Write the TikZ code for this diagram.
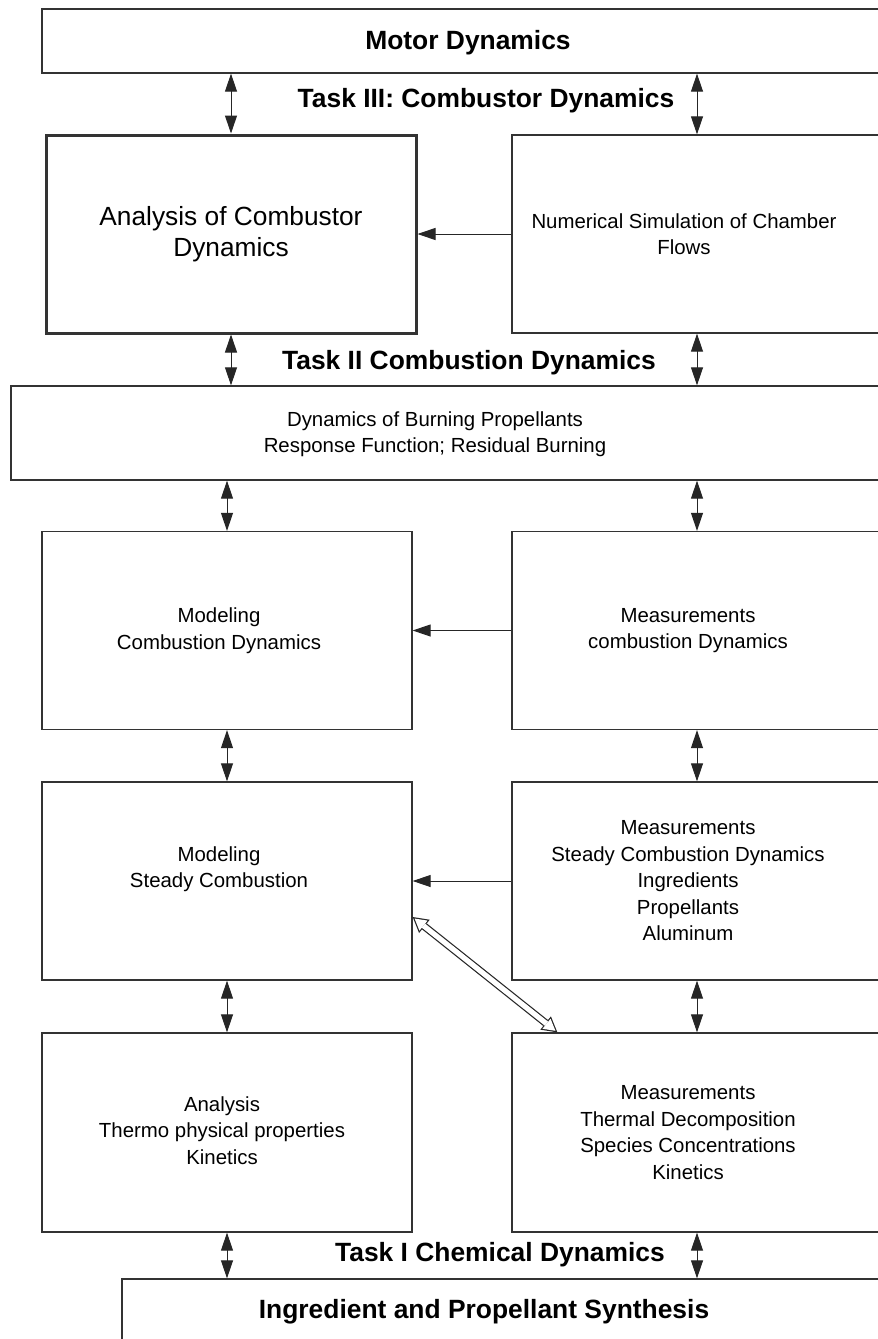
\documentclass[tikz,border=0pt]{standalone}
\usepackage{fontspec}
\setmainfont{Liberation Sans}
\usetikzlibrary{arrows.meta,positioning,calc}

\begin{document}
\begin{tikzpicture}[x=0.5pt, y=-0.5pt,
        box/.style={draw=black!80, line width=0.65pt, minimum width=185pt, minimum height=99pt, inner sep=0pt},
        txt/.style={align=center, font=\fontsize{10.2}{13.25}\selectfont},
        big/.style={align=center, font=\fontsize{13.15}{15.5}\selectfont},
        task/.style={font=\fontsize{13.2}{15.5}\selectfont\bfseries},
        both/.style={line width=0.5pt, draw=black!85, {Triangle[length=9pt,width=6pt]}-{Triangle[length=9pt,width=6pt]}},
        arrow/.style={line width=0.5pt, draw=black!85, -{Triangle[length=9pt,width=6pt]}},
        hollow/.style={
            preaction={draw=black!85, line width=3.8pt, shorten <=0pt, shorten >=0pt,
                {Triangle[length=7.5pt,width=8.5pt,line width=0pt]}-{Triangle[length=7.5pt,width=8.5pt,line width=0pt]}},
            draw=white, line width=2.6pt, shorten <=1.22pt, shorten >=1.22pt,
            {Triangle[length=5.7pt,width=6.45pt,line width=0pt]}-{Triangle[length=5.7pt,width=6.45pt,line width=0pt]}}
    ]
        \clip (0,0) rectangle (878,1339);
        \fill[white] (0,0) rectangle (878,1339);

        % Top bar
        \node[box, minimum width=426pt, minimum height=32pt] (motor) at (468,41) {};
        \node[task] at ([yshift=-1pt]motor.center) {Motor Dynamics};

        % Task III
        \node[box, big, line width=1.5pt] (anacomb) at (231,234) {Analysis of Combustor\\Dynamics};
        \node[box] (numsim) at (697,234) {};
        \node[txt] (numsim-t) at ([xshift=-6.5pt]numsim.center) {Numerical Simulation of Chamber\\Flows};
        \node[task] (task3) at (486,101) {Task III: Combustor Dynamics};

        % Task II
        \node[box, minimum width=437pt, minimum height=47pt] (dyn) at (448,433) {};
        \node[txt] (dyn-t) at ([xshift=-6.5pt, yshift=-0.5pt]dyn.center) {Dynamics of Burning Propellants\\Response Function; Residual Burning};
        \node[task] (task2) at (469,363) {Task II Combustion Dynamics};

        \node[box] (modcomb) at (227,630.5) {};
        \node[txt] at ([xshift=-4pt]modcomb.center) {Modeling\\Combustion Dynamics};
        \node[box] (mcdyn) at (697,630.5) {};
        \node[txt] at ([xshift=-4.5pt]mcdyn.center) {Measurements\\combustion Dynamics};

        \node[box] (steady) at (227,881) {};
        \node[txt] at ([xshift=-4pt, yshift=6pt]steady.center) {Modeling\\Steady Combustion};
        \node[box] (msteady) at (697,881) {};
        \node[txt] at ([xshift=-4.5pt]msteady.center) {Measurements\\Steady Combustion Dynamics\\Ingredients\\Propellants\\Aluminum};

        % Task I
        \node[box, minimum height=99.5pt] (thermo) at (227,1132.5) {};
        \node[txt] at ([xshift=-2.5pt, yshift=1pt]thermo.center) {Analysis\\Thermo physical properties\\Kinetics};
        \node[box, minimum height=99.5pt] (mthermal) at (697,1132.5) {};
        \node[txt] at ([xshift=-4.5pt]mthermal.center) {Measurements\\Thermal Decomposition\\Species Concentrations\\Kinetics};
        \node[task] (task1) at (500,1255) {Task I Chemical Dynamics};

        % Bottom bar
        \node[box, minimum width=381.5pt, minimum height=33pt] (synth) at (503.5,1312) {};
        \node[task] at ([xshift=-9.75pt]synth.center) {Ingredient and Propellant Synthesis};

        % Vertical links
        \draw[both] (motor.south -| anacomb.north) -- (anacomb.north);
        \draw[both] (motor.south -| numsim.north) -- (numsim.north);
        \draw[both] (anacomb.south) -- (anacomb.south |- dyn.north);
        \draw[both] (numsim.south) -- (numsim.south |- dyn.north);
        \draw[both] (dyn.south -| modcomb.north) -- (modcomb.north);
        \draw[both] (dyn.south -| mcdyn.north) -- (mcdyn.north);
        \draw[both] (modcomb.south) -- (steady.north);
        \draw[both] (mcdyn.south) -- (msteady.north);
        \draw[both] (steady.south) -- (thermo.north);
        \draw[both] (msteady.south) -- (mthermal.north);
        \draw[both] (thermo.south) -- (thermo.south |- synth.north);
        \draw[both] (mthermal.south) -- (mthermal.south |- synth.north);

        % Measurements feed the models
        \draw[arrow] (numsim.west) -- (anacomb.east);
        \draw[arrow] (mcdyn.west) -- (mcdyn.west -| modcomb.east);
        \draw[arrow] (msteady.west) -- (msteady.west -| steady.east);

        % Two-way link steady model / thermal decomposition
        \draw[hollow] ([yshift=-18pt]steady.east) -- ([xshift=23pt]mthermal.north west);
    \end{tikzpicture}
\end{document}
